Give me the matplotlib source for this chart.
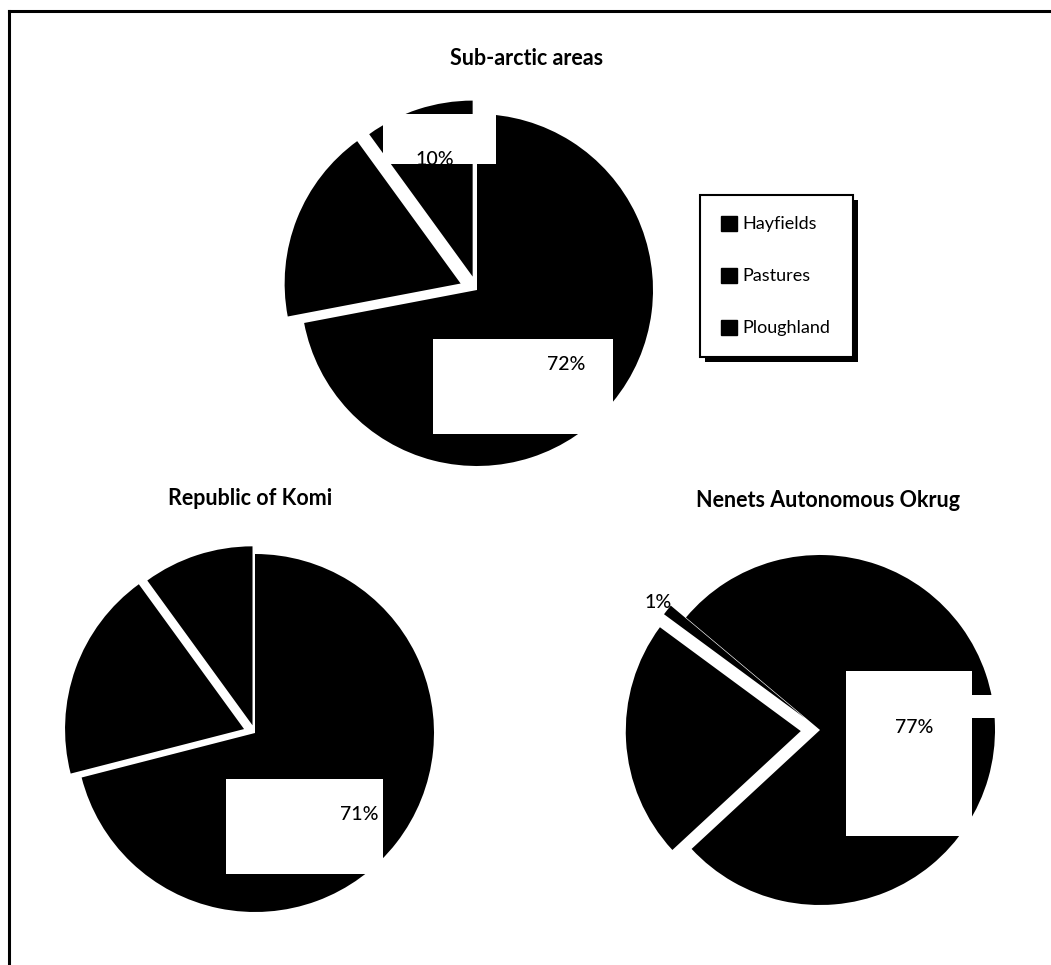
import matplotlib
matplotlib.use("Agg")
import matplotlib.pyplot as plt
from matplotlib.patches import Rectangle, Patch
from matplotlib.lines import Line2D
from matplotlib.transforms import IdentityTransform
import numpy as np

# ---------------- data ----------------
categories = ["Hayfields", "Pastures", "Ploughland"]
titles = ["Sub-arctic areas", "Republic of Komi", "Nenets Autonomous Okrug"]
subarctic = [72, 18, 10]
komi = [71, 19, 10]
nenets = [77, 22, 1]
subarctic_labels = ["72%", "", "10%"]
komi_labels = ["71%", "", ""]
nenets_labels = ["77%", "", "1%"]

# ---------------- layout / style ----------------
W, H = 1051, 965
plt.rcParams['font.family'] = ['Lato', 'DejaVu Sans']
fig = plt.figure(figsize=(W / 100, H / 100), dpi=100)
fig.patch.set_facecolor('white')

LIM = 1.4

# per-pie style: centre (px), radius (px), explode, start angle, label distances,
# white label boxes (px offsets from label: left, right, top, bottom)
pies = [
    dict(values=subarctic, labels=subarctic_labels, title=titles[0],
         cx=477, cy=290, R=176, explode=[0, 0.10, 0.08], start=90,
         ldist=[0.66, 0, 0.70],
         boxes=[[(-134, 46, -25, 70)], [], [(-52, 61, -45, 5)]],
         tpos=(527, 65)),
    dict(values=komi, labels=komi_labels, title=titles[1],
         cx=255, cy=733, R=179, explode=[0, 0.065, 0.045], start=90,
         ldist=[0.74, 0, 0],
         boxes=[[(-134, 23, -35, 60)], [], []],
         tpos=(250, 505)),
    dict(values=nenets, labels=nenets_labels, title=titles[2],
         cx=820, cy=730, R=175, explode=[0, 0.11, 0.11], start=140,
         ldist=[0.54, 0, 1.07],
         boxes=[[(-68, 58, -57, 108), (55, 87, -33, -10)], [], []],
         tpos=(828, 507)),
]

for p in pies:
    R = p['R']
    half = R * LIM
    ax = fig.add_axes([(p['cx'] - half) / W, 1 - (p['cy'] + half) / H,
                       2 * half / W, 2 * half / H])
    wedges, _ = ax.pie(p['values'], explode=p['explode'], startangle=p['start'],
                       counterclock=False, colors=['black'] * len(p['values']),
                       wedgeprops=dict(linewidth=0, edgecolor='white'))
    ax.set_xlim(-LIM, LIM)
    ax.set_ylim(-LIM, LIM)
    ax.set_aspect('equal')
    ax.axis('off')
    for w, lab, d, boxes in zip(wedges, p['labels'], p['ldist'], p['boxes']):
        if not lab:
            continue
        mid = np.deg2rad((w.theta1 + w.theta2) / 2)
        lx = w.center[0] + d * np.cos(mid)
        ly = w.center[1] + d * np.sin(mid)
        for (l, r, t, b) in boxes:
            ax.add_patch(Rectangle((lx + l / R, ly - b / R), (r - l) / R, (b - t) / R,
                                   facecolor='white', edgecolor='none', zorder=3,
                                   clip_on=False))
        ax.text(lx, ly, lab, ha='center', va='center', fontsize=14,
                fontweight='medium', color='black', zorder=4)
    fig.text(p['tpos'][0] / W, 1 - p['tpos'][1] / H, p['title'], ha='center',
             va='baseline', fontsize=15.5, fontweight='bold', color='black')

# legend
handles = [Patch(facecolor='black', edgecolor='black', label=c) for c in categories]
leg = fig.legend(handles=handles, loc='upper left',
                 bbox_to_anchor=(700 / W, 1 - 358 / H, 153 / W, 163 / H),
                 mode='expand', borderaxespad=0, fontsize=13,
                 handlelength=0.9, handleheight=0.9, handletextpad=0.3,
                 labelspacing=1.95, borderpad=1.15, fancybox=False, framealpha=1,
                 edgecolor='black')
leg.get_frame().set_linewidth(1.5)

fig.canvas.draw()
bb = leg.get_window_extent()
fig.patches.append(Rectangle((bb.x0 + 5, bb.y0 - 5), bb.width, bb.height,
                             facecolor='black', edgecolor='none',
                             transform=IdentityTransform(), zorder=4,
                             figure=fig))

# outer frame (top and left edges)
fig.add_artist(Line2D([9 / W, 9 / W], [0, 1 - 11 / H], transform=fig.transFigure,
                      color='black', linewidth=2.2))
fig.add_artist(Line2D([9 / W, 1], [1 - 11 / H, 1 - 11 / H], transform=fig.transFigure,
                      color='black', linewidth=2.2))

fig.savefig('out.png', dpi=100, facecolor='white')
